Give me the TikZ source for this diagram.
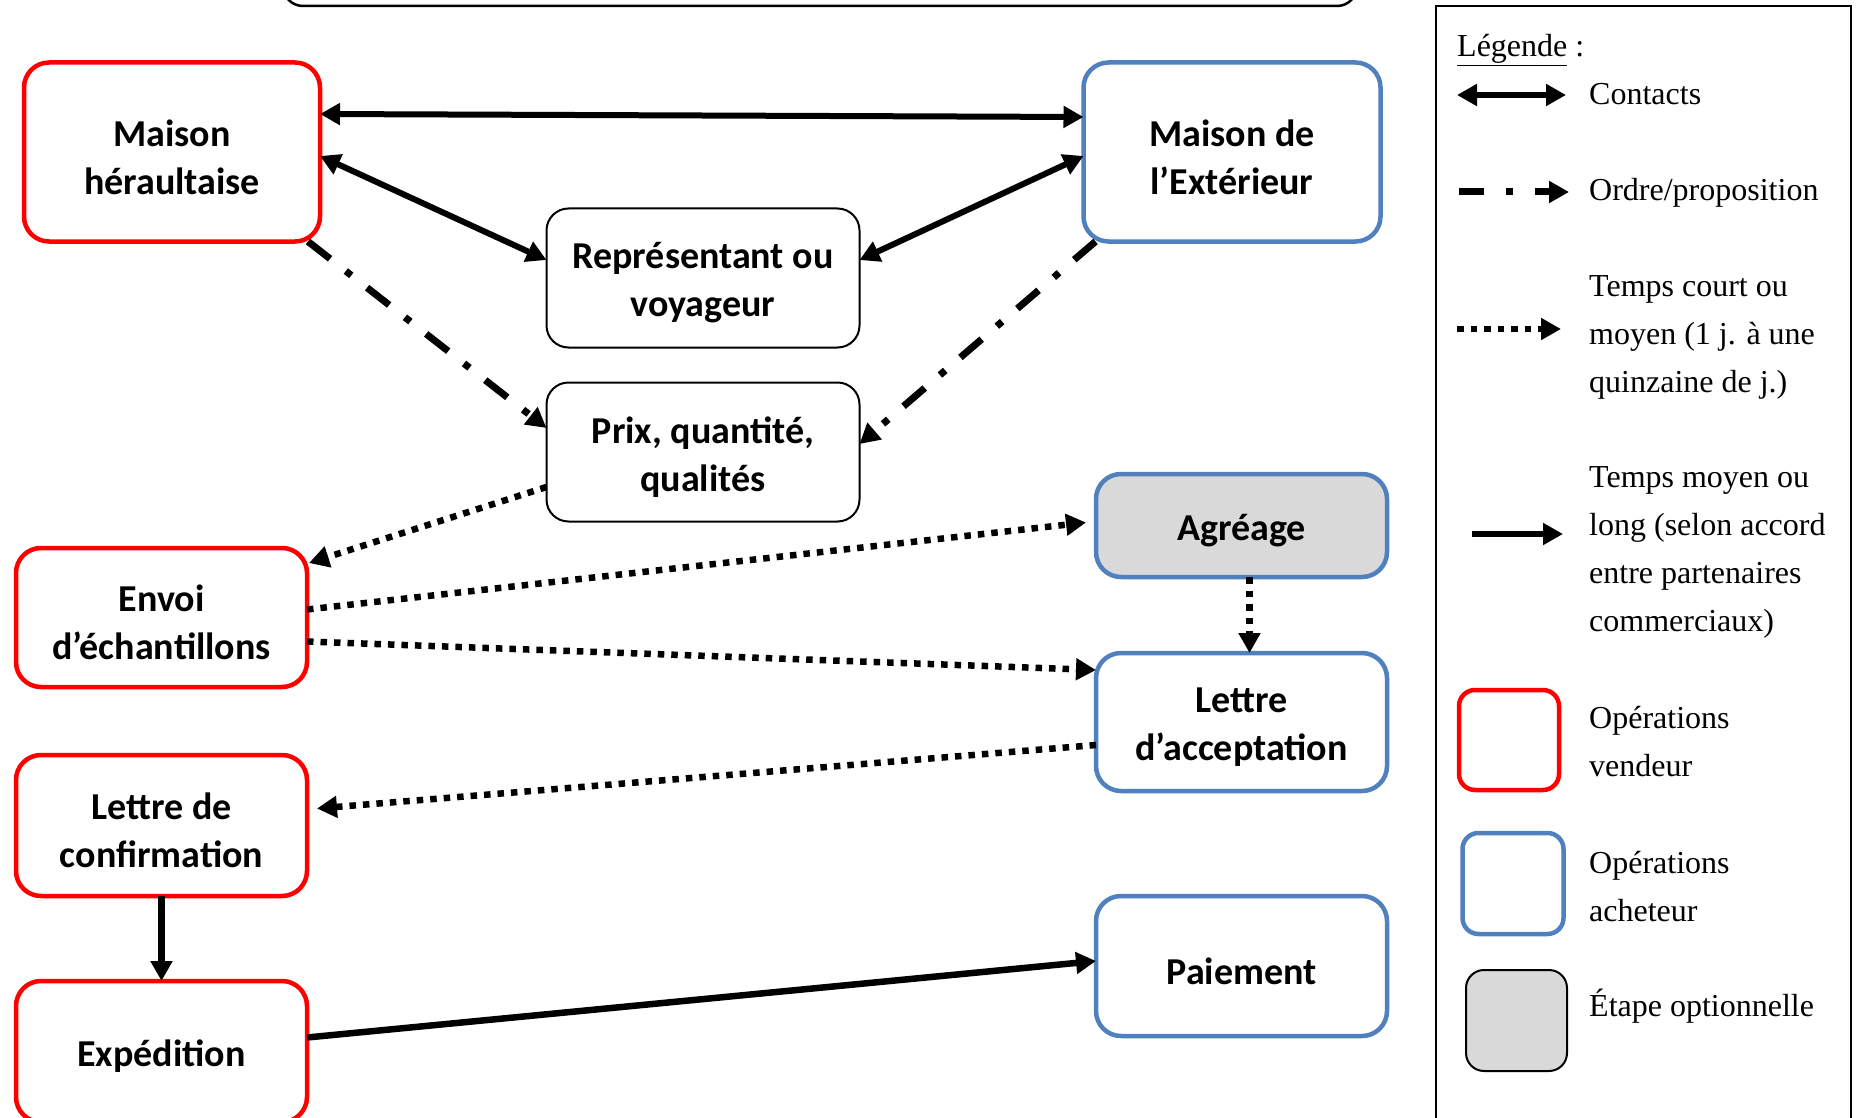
\documentclass[tikz,border=0pt]{standalone}
\usepackage{fontspec}
\setmainfont{Liberation Serif}
\newfontfamily\boxfont{Carlito}
\usetikzlibrary{arrows.meta,calc}
\definecolor{vred}{RGB}{255,0,0}
\definecolor{ablue}{RGB}{80,128,189}
\definecolor{optgrey}{RGB}{217,217,217}
\tikzset{
 box/.style={draw, rounded corners=25pt, outer sep=0pt, inner sep=0pt},
 txt/.style={align=center, inner sep=0pt, yshift=-5pt, font=\boxfont\bfseries\fontsize{38}{48}\selectfont},
 vendeur/.style={box, draw=vred, line width=4.5pt},
 acheteur/.style={box, draw=ablue, line width=4.5pt},
 neutre/.style={box, draw=black, line width=2pt, rounded corners=22pt},
 tip/.style={-{Triangle[length=20pt,width=21pt]}},
 contact/.style={{Triangle[length=20pt,width=21pt]}-{Triangle[length=20pt,width=21pt]}, line width=6pt},
 ordre/.style={tip, line width=7pt, dash pattern=on 28pt off 20pt on 7pt off 20pt},
 court/.style={tip, line width=6.5pt, dash pattern=on 6.5pt off 7pt},
 long/.style={tip, line width=6.5pt},
 legtext/.style={anchor=west, align=left, inner sep=0pt, font=\fontsize{32}{48}\selectfont},
}
\begin{document}
\begin{tikzpicture}[x=1pt,y=-1pt]
\useasboundingbox (0,0) rectangle (1857,1118);
\fill[white] (0,0) rectangle (1857,1118);
\clip (0,0) rectangle (1857,1118);

% top (cut) box
\draw[line width=2.5pt, rounded corners=20pt] (283,-80) rectangle (1357,6);

% nodes
\node[vendeur, minimum width=296pt, minimum height=179pt, label={[txt]center:Maison\\héraultaise}] (mh) at (172,152) {};
\node[acheteur, minimum width=297pt, minimum height=179pt, label={[txt]center:Maison de\\l’Extérieur}] (mde) at (1232,152) {};
\node[neutre, minimum width=313pt, minimum height=139pt, label={[txt]center:Représentant ou\\voyageur}] (rep) at (703,278) {};
\node[neutre, minimum width=313pt, minimum height=139pt, label={[txt]center:Prix, quantité,\\qualités}] (prix) at (703,452) {};
\node[vendeur, minimum width=291pt, minimum height=139pt, label={[txt]center:Envoi\\d’échantillons}] (envoi) at (161.5,617.5) {};
\node[acheteur, fill=optgrey, minimum width=291pt, minimum height=103pt, label={[txt]center:Agréage}] (agr) at (1241.5,525.5) {};
\node[acheteur, minimum width=291pt, minimum height=138pt, label={[txt]center:Lettre\\d’acceptation}] (lda) at (1241.5,722) {};
\node[vendeur, minimum width=291pt, minimum height=141pt, label={[txt]center:Lettre de\\confirmation}] (ldc) at (161.5,825.5) {};
\node[vendeur, minimum width=291pt, minimum height=141pt, label={[txt]center:Expédition}] (exp) at (161.5,1051.5) {};
\node[acheteur, minimum width=291pt, minimum height=140pt, label={[txt]center:Paiement}] (pai) at (1241.5,966) {};

% connectors
\draw[contact] ($(mh.east)+(0,-38)$) -- ($(mde.west)+(0,-35)$);
\draw[contact] ($(mh.east)+(0,4)$) -- ($(rep.west)+(0,-18)$);
\draw[contact] ($(mde.west)+(0,4)$) -- ($(rep.east)+(0,-18)$);
\draw[ordre] ($(mh.south east)+(-12,0)$) -- ($(prix.west)+(0,-24)$);
\draw[ordre] ($(mde.south west)+(12,0)$) -- ($(prix.east)+(0,-8)$);
\draw[court] ($(prix.west)+(0,35)$) -- ($(envoi.north east)+(2,15)$);
\draw[court] ($(envoi.east)+(0,-8)$) -- ($(agr.west)+(-10,-3)$);
\draw[court] ($(envoi.east)+(0,24)$) -- ($(lda.west)+(0,-52)$);
\draw[court] ($(agr.south)+(8,0)$) -- ($(lda.north)+(8,0)$);
\draw[court] ($(lda.west)+(0,23)$) -- ($(ldc.east)+(10,-17)$);
\draw[long] (ldc.south) -- (exp.north);
\draw[long] ($(exp.east)+(0,-14)$) -- ($(pai.west)+(0,-5)$);

% legend
\draw[line width=2pt] (1436,6) rectangle (1851,1140);
\node[legtext] (tleg) at (1457,50) {\underline{Légende} :};
\coordinate (a1) at (1457,95); \coordinate (b1) at (1566,95);
\draw[contact] (a1) -- (b1);
\node[legtext] (t1) at (1589,94) {Contacts};
\coordinate (a2) at (1459,192); \coordinate (b2) at (1569,192);
\draw[tip, line width=7pt, dash pattern=on 25pt off 22pt on 7pt off 22pt] (a2) -- (b2);
\node[legtext] (t2) at (1589,193) {Ordre/proposition};
\coordinate (a3) at (1457,329); \coordinate (b3) at (1561,329);
\draw[court] (a3) -- (b3);
\node[legtext] (t3) at (1589,337) {Temps court ou\\moyen (1 j. à une\\quinzaine de j.)};
\coordinate (a4) at (1472,534); \coordinate (b4) at (1563,534);
\draw[long] (a4) -- (b4);
\node[legtext] (t4) at (1589,552) {Temps moyen ou\\long (selon accord\\entre partenaires\\commerciaux)};
\node[vendeur, rounded corners=16pt, minimum width=100pt, minimum height=100pt] (lv) at (1509,740) {};
\node[legtext] (t5) at (1589,742) {Opérations\\vendeur};
\node[acheteur, rounded corners=16pt, minimum width=101pt, minimum height=101pt] (la) at (1513,883.5) {};
\node[legtext] (t6) at (1589,887) {Opérations\\acheteur};
\node[box, draw=black, line width=2pt, fill=optgrey, rounded corners=18pt, minimum width=101pt, minimum height=101pt] (lo) at (1516.5,1020.5) {};
\node[legtext] (t7) at (1589,1006) {Étape optionnelle};
\end{tikzpicture}
\end{document}
